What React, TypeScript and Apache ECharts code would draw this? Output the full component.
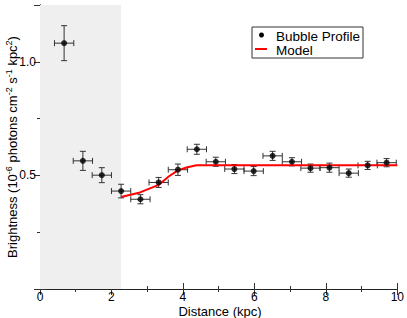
import React, { useEffect, useRef } from "react";
import * as echarts from "echarts";

const distance = [0.675, 1.2, 1.73, 2.27, 2.81, 3.32, 3.86, 4.39, 4.92, 5.44, 5.98, 6.51, 7.05, 7.57, 8.1, 8.64, 9.17, 9.7];
const brightness = [1.082, 0.564, 0.501, 0.431, 0.395, 0.469, 0.525, 0.615, 0.56, 0.528, 0.519, 0.586, 0.56, 0.532, 0.534, 0.51, 0.544, 0.556];
const brightnessErr = [0.077, 0.042, 0.033, 0.03, 0.02, 0.022, 0.025, 0.022, 0.02, 0.02, 0.02, 0.02, 0.018, 0.018, 0.02, 0.018, 0.018, 0.018];
const distanceErr = [0.27, 0.27, 0.27, 0.27, 0.27, 0.27, 0.27, 0.27, 0.27, 0.27, 0.27, 0.27, 0.27, 0.27, 0.27, 0.27, 0.27, 0.27];
const modelX = [2.27, 2.8, 3.32, 3.6, 3.86, 4.1, 4.38, 10];
const modelY = [0.405, 0.425, 0.458, 0.495, 0.522, 0.535, 0.545, 0.545];
const shadeRange = [0, 2.27];
const yTickLabels = [0.5, 1.0];

const FONT = "'Liberation Sans', Arial, sans-serif";

export default function App() {
  const ref = useRef<HTMLDivElement>(null);
  useEffect(() => {
    if (!ref.current) return;
    document.body.style.margin = "0";
    const chart = echarts.init(ref.current, null, { renderer: "svg" });
    const axisLine = { show: true, lineStyle: { color: "#222", width: 1 } };
    const errData = distance.map((x, i) => [x, brightness[i], distanceErr[i], brightnessErr[i]]);
    chart.setOption({
      animation: false,
      textStyle: { fontFamily: FONT },
      grid: { left: 40, right: 7, top: 5, bottom: 29 },
      xAxis: [
        {
          type: "value", min: 0, max: 10, interval: 2,
          axisLine, splitLine: { show: false },
          axisTick: { inside: true, length: 6, lineStyle: { color: "#333" } },
          minorTick: { show: true, splitNumber: 2, length: 3, lineStyle: { color: "#333" } },
          axisLabel: { color: "#000", fontSize: 12, margin: 2, fontFamily: FONT },
        },
        {
          type: "value", min: 0, max: 10, interval: 2, position: "top",
          axisLine, splitLine: { show: false },
          axisTick: { inside: true, length: 6, lineStyle: { color: "#333" } },
          minorTick: { show: true, splitNumber: 2, length: 3, lineStyle: { color: "#333" } },
          axisLabel: { show: false },
        },
      ],
      yAxis: [
        {
          type: "value", min: 0, max: 1.25, interval: 0.5,
          axisLine, splitLine: { show: false },
          axisTick: { inside: true, length: 6, lineStyle: { color: "#333" } },
          minorTick: { show: true, splitNumber: 2, length: 3, lineStyle: { color: "#333" } },
          axisLabel: {
            color: "#000", fontSize: 12, margin: 4, fontFamily: FONT,
            showMaxLabel: false,
            formatter: (v: number) => (yTickLabels.some((t) => Math.abs(t - v) < 1e-6) ? v.toFixed(1) : ""),
          },
        },
        {
          type: "value", min: 0, max: 1.25, interval: 0.5, position: "right",
          axisLine, splitLine: { show: false },
          axisTick: { inside: true, length: 6, lineStyle: { color: "#333" } },
          minorTick: { show: true, splitNumber: 2, length: 3, lineStyle: { color: "#333" } },
          axisLabel: { show: false },
        },
      ],
      series: [
        {
          name: "shade",
          type: "line",
          data: [],
          silent: true,
          markArea: {
            silent: true,
            itemStyle: { color: "#efefef" },
            data: [[{ xAxis: shadeRange[0] }, { xAxis: shadeRange[1] }]],
          },
        },
        {
          name: "errors",
          type: "custom",
          data: errData,
          z: 3,
          encode: { x: 0, y: 1 },
          renderItem: (params: any, api: any) => {
            const x = api.value(0), y = api.value(1), ex = api.value(2), ey = api.value(3);
            const l = api.coord([x - ex, y]);
            const r = api.coord([x + ex, y]);
            const t = api.coord([x, y + ey]);
            const b = api.coord([x, y - ey]);
            const style = { stroke: "#333", lineWidth: 1 };
            const cap = 3;
            return {
              type: "group",
              children: [
                { type: "line", shape: { x1: l[0], y1: l[1], x2: r[0], y2: r[1] }, style },
                { type: "line", shape: { x1: l[0], y1: l[1] - cap, x2: l[0], y2: l[1] + cap }, style },
                { type: "line", shape: { x1: r[0], y1: r[1] - cap, x2: r[0], y2: r[1] + cap }, style },
                { type: "line", shape: { x1: t[0], y1: t[1], x2: b[0], y2: b[1] }, style },
                { type: "line", shape: { x1: t[0] - cap, y1: t[1], x2: t[0] + cap, y2: t[1] }, style },
                { type: "line", shape: { x1: b[0] - cap, y1: b[1], x2: b[0] + cap, y2: b[1] }, style },
              ],
            };
          },
        },
        {
          name: "Model",
          type: "line",
          data: modelX.map((x, i) => [x, modelY[i]]),
          showSymbol: false,
          symbol: "none",
          z: 4,
          lineStyle: { color: "#ff0000", width: 2 },
        },
        {
          name: "Bubble Profile",
          type: "scatter",
          data: distance.map((x, i) => [x, brightness[i]]),
          symbol: "circle",
          symbolSize: 6,
          z: 5,
          itemStyle: { color: "#000" },
        },
      ],
      graphic: [
        {
          type: "rect",
          shape: { x: 252, y: 27, width: 111, height: 31 },
          style: { fill: "#fff", stroke: "#333", lineWidth: 1 },
          z: 10,
        },
        { type: "circle", shape: { cx: 261.5, cy: 35, r: 2.5 }, style: { fill: "#000" }, z: 11 },
        { type: "line", shape: { x1: 255, y1: 49, x2: 267, y2: 49 }, style: { stroke: "#ff0000", lineWidth: 2 }, z: 11 },
        {
          type: "text", x: 276, y: 36, z: 11,
          style: { text: "Bubble Profile", fontSize: 13.5, fontFamily: FONT, fill: "#000", textVerticalAlign: "middle" },
        },
        {
          type: "text", x: 276, y: 50, z: 11,
          style: { text: "Model", fontSize: 13.5, fontFamily: FONT, fill: "#000", textVerticalAlign: "middle" },
        },
        {
          type: "text", x: 220, y: 311, z: 11,
          style: { text: "Distance (kpc)", fontSize: 13, fontFamily: FONT, fill: "#000", textAlign: "center", textVerticalAlign: "middle" },
        },
        {
          type: "text", x: 12, y: 147, rotation: Math.PI / 2, z: 11,
          style: {
            text: "Brightness (10{sup|-6} photons cm{sup|-2} s{sup|-1} kpc{sup|2})",
            fontSize: 13, fontFamily: FONT, fill: "#000", lineHeight: 16,
            textAlign: "center", textVerticalAlign: "middle",
            rich: {
              sup: { fontSize: 9, fontFamily: FONT, fill: "#000", verticalAlign: "top", lineHeight: 16, padding: [0, 0, 0, 0] },
            },
          },
        },
      ],
    });
    return () => chart.dispose();
  }, []);
  return <div ref={ref} style={{ width: 407, height: 318 }} />;
}
